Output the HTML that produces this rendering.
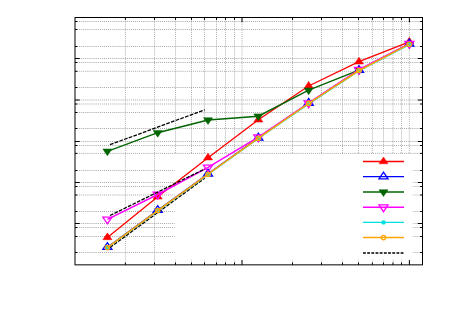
<!DOCTYPE html><html><head><meta charset="utf-8"><title>plot</title><style>html,body{margin:0;padding:0;background:#fff;font-family:"Liberation Sans",sans-serif}svg{display:block}</style></head><body>
<svg width="450" height="314" viewBox="0 0 450 314">
<rect x="0" y="0" width="450" height="314" fill="#fff"/>
<g stroke="#b0b0b0" stroke-width="1" stroke-dasharray="1 1.07" fill="none"><line x1="125.40" y1="17.50" x2="125.40" y2="264.85"/><line x1="154.50" y1="17.50" x2="154.50" y2="264.85"/><line x1="175.50" y1="17.50" x2="175.50" y2="264.85"/><line x1="191.50" y1="17.50" x2="191.50" y2="264.85"/><line x1="204.50" y1="17.50" x2="204.50" y2="264.85"/><line x1="216.50" y1="17.50" x2="216.50" y2="264.85"/><line x1="225.50" y1="17.50" x2="225.50" y2="264.85"/><line x1="234.50" y1="17.50" x2="234.50" y2="264.85"/><line x1="242.00" y1="17.50" x2="242.00" y2="264.85"/><line x1="292.50" y1="17.50" x2="292.50" y2="264.85"/><line x1="321.50" y1="17.50" x2="321.50" y2="264.85"/><line x1="342.50" y1="17.50" x2="342.50" y2="264.85"/><line x1="358.50" y1="17.50" x2="358.50" y2="264.85"/><line x1="372.40" y1="17.50" x2="372.40" y2="264.85"/><line x1="383.50" y1="17.50" x2="383.50" y2="264.85"/><line x1="393.00" y1="17.50" x2="393.00" y2="264.85"/><line x1="401.50" y1="17.50" x2="401.50" y2="264.85"/><line x1="409.40" y1="17.50" x2="409.40" y2="264.85"/></g>
<g stroke="#a6a6a6" stroke-width="1" stroke-dasharray="1 1.07" fill="none"><line x1="75.00" y1="21.50" x2="422.50" y2="21.50"/><line x1="75.00" y1="29.50" x2="422.50" y2="29.50"/><line x1="75.00" y1="46.50" x2="422.50" y2="46.50"/><line x1="75.00" y1="58.50" x2="422.50" y2="58.50"/><line x1="75.00" y1="62.50" x2="422.50" y2="62.50"/><line x1="75.00" y1="71.30" x2="422.50" y2="71.30"/><line x1="75.00" y1="87.50" x2="422.50" y2="87.50"/><line x1="75.00" y1="100.00" x2="422.50" y2="100.00"/><line x1="75.00" y1="104.00" x2="422.50" y2="104.00"/><line x1="75.00" y1="112.50" x2="422.50" y2="112.50"/><line x1="75.00" y1="128.50" x2="422.50" y2="128.50"/><line x1="75.00" y1="141.50" x2="422.50" y2="141.50"/><line x1="75.00" y1="145.50" x2="422.50" y2="145.50"/><line x1="75.00" y1="153.40" x2="422.50" y2="153.40"/><line x1="75.00" y1="170.50" x2="422.50" y2="170.50"/><line x1="75.00" y1="182.50" x2="422.50" y2="182.50"/><line x1="75.00" y1="186.50" x2="422.50" y2="186.50"/><line x1="75.00" y1="195.00" x2="422.50" y2="195.00"/><line x1="75.00" y1="211.50" x2="422.50" y2="211.50"/><line x1="75.00" y1="223.50" x2="422.50" y2="223.50"/><line x1="75.00" y1="227.50" x2="422.50" y2="227.50"/><line x1="75.00" y1="236.50" x2="422.50" y2="236.50"/><line x1="75.00" y1="252.50" x2="422.50" y2="252.50"/></g>
<rect x="174.9" y="154.0" width="237.7" height="105.8" fill="#fff"/>
<g stroke="#000" stroke-width="1" fill="none"><line x1="125.40" y1="264.85" x2="125.40" y2="262.50"/><line x1="125.40" y1="17.50" x2="125.40" y2="19.85"/><line x1="154.50" y1="264.85" x2="154.50" y2="262.50"/><line x1="154.50" y1="17.50" x2="154.50" y2="19.85"/><line x1="175.50" y1="264.85" x2="175.50" y2="262.50"/><line x1="175.50" y1="17.50" x2="175.50" y2="19.85"/><line x1="191.50" y1="264.85" x2="191.50" y2="262.50"/><line x1="191.50" y1="17.50" x2="191.50" y2="19.85"/><line x1="204.50" y1="264.85" x2="204.50" y2="262.50"/><line x1="204.50" y1="17.50" x2="204.50" y2="19.85"/><line x1="216.50" y1="264.85" x2="216.50" y2="262.50"/><line x1="216.50" y1="17.50" x2="216.50" y2="19.85"/><line x1="225.50" y1="264.85" x2="225.50" y2="262.50"/><line x1="225.50" y1="17.50" x2="225.50" y2="19.85"/><line x1="234.50" y1="264.85" x2="234.50" y2="262.50"/><line x1="234.50" y1="17.50" x2="234.50" y2="19.85"/><line x1="242.00" y1="264.85" x2="242.00" y2="260.15"/><line x1="242.00" y1="17.50" x2="242.00" y2="22.20"/><line x1="292.50" y1="264.85" x2="292.50" y2="262.50"/><line x1="292.50" y1="17.50" x2="292.50" y2="19.85"/><line x1="321.50" y1="264.85" x2="321.50" y2="262.50"/><line x1="321.50" y1="17.50" x2="321.50" y2="19.85"/><line x1="342.50" y1="264.85" x2="342.50" y2="262.50"/><line x1="342.50" y1="17.50" x2="342.50" y2="19.85"/><line x1="358.50" y1="264.85" x2="358.50" y2="262.50"/><line x1="358.50" y1="17.50" x2="358.50" y2="19.85"/><line x1="372.40" y1="264.85" x2="372.40" y2="262.50"/><line x1="372.40" y1="17.50" x2="372.40" y2="19.85"/><line x1="383.50" y1="264.85" x2="383.50" y2="262.50"/><line x1="383.50" y1="17.50" x2="383.50" y2="19.85"/><line x1="393.00" y1="264.85" x2="393.00" y2="262.50"/><line x1="393.00" y1="17.50" x2="393.00" y2="19.85"/><line x1="401.50" y1="264.85" x2="401.50" y2="262.50"/><line x1="401.50" y1="17.50" x2="401.50" y2="19.85"/><line x1="409.40" y1="264.85" x2="409.40" y2="260.15"/><line x1="409.40" y1="17.50" x2="409.40" y2="22.20"/><line x1="75.00" y1="21.50" x2="77.35" y2="21.50"/><line x1="422.50" y1="21.50" x2="420.15" y2="21.50"/><line x1="75.00" y1="29.50" x2="77.35" y2="29.50"/><line x1="422.50" y1="29.50" x2="420.15" y2="29.50"/><line x1="75.00" y1="46.50" x2="77.35" y2="46.50"/><line x1="422.50" y1="46.50" x2="420.15" y2="46.50"/><line x1="75.00" y1="58.50" x2="79.70" y2="58.50"/><line x1="422.50" y1="58.50" x2="417.80" y2="58.50"/><line x1="75.00" y1="62.50" x2="77.35" y2="62.50"/><line x1="422.50" y1="62.50" x2="420.15" y2="62.50"/><line x1="75.00" y1="71.30" x2="77.35" y2="71.30"/><line x1="422.50" y1="71.30" x2="420.15" y2="71.30"/><line x1="75.00" y1="87.50" x2="77.35" y2="87.50"/><line x1="422.50" y1="87.50" x2="420.15" y2="87.50"/><line x1="75.00" y1="100.00" x2="79.70" y2="100.00"/><line x1="422.50" y1="100.00" x2="417.80" y2="100.00"/><line x1="75.00" y1="104.00" x2="77.35" y2="104.00"/><line x1="422.50" y1="104.00" x2="420.15" y2="104.00"/><line x1="75.00" y1="112.50" x2="77.35" y2="112.50"/><line x1="422.50" y1="112.50" x2="420.15" y2="112.50"/><line x1="75.00" y1="128.50" x2="77.35" y2="128.50"/><line x1="422.50" y1="128.50" x2="420.15" y2="128.50"/><line x1="75.00" y1="141.50" x2="79.70" y2="141.50"/><line x1="422.50" y1="141.50" x2="417.80" y2="141.50"/><line x1="75.00" y1="145.50" x2="77.35" y2="145.50"/><line x1="422.50" y1="145.50" x2="420.15" y2="145.50"/><line x1="75.00" y1="153.40" x2="77.35" y2="153.40"/><line x1="422.50" y1="153.40" x2="420.15" y2="153.40"/><line x1="75.00" y1="170.50" x2="77.35" y2="170.50"/><line x1="422.50" y1="170.50" x2="420.15" y2="170.50"/><line x1="75.00" y1="182.50" x2="79.70" y2="182.50"/><line x1="422.50" y1="182.50" x2="417.80" y2="182.50"/><line x1="75.00" y1="186.50" x2="77.35" y2="186.50"/><line x1="422.50" y1="186.50" x2="420.15" y2="186.50"/><line x1="75.00" y1="195.00" x2="77.35" y2="195.00"/><line x1="422.50" y1="195.00" x2="420.15" y2="195.00"/><line x1="75.00" y1="211.50" x2="77.35" y2="211.50"/><line x1="422.50" y1="211.50" x2="420.15" y2="211.50"/><line x1="75.00" y1="223.50" x2="79.70" y2="223.50"/><line x1="422.50" y1="223.50" x2="417.80" y2="223.50"/><line x1="75.00" y1="227.50" x2="77.35" y2="227.50"/><line x1="422.50" y1="227.50" x2="420.15" y2="227.50"/><line x1="75.00" y1="236.50" x2="77.35" y2="236.50"/><line x1="422.50" y1="236.50" x2="420.15" y2="236.50"/><line x1="75.00" y1="252.50" x2="77.35" y2="252.50"/><line x1="422.50" y1="252.50" x2="420.15" y2="252.50"/></g>
<rect x="75.0" y="17.5" width="347.5" height="247.35" fill="none" stroke="#000" stroke-width="1"/>
<g stroke="#ff0000" stroke-width="1.3" fill="none" stroke-linejoin="miter"><polyline points="107.40,237.40 157.71,196.80 208.03,157.70 258.35,119.80 308.67,86.00 358.98,61.70 409.30,41.80"/><line x1="363.0" y1="161.5" x2="404.0" y2="161.5"/></g><path d="M102.86,239.67L111.93,239.67L107.40,232.87Z" fill="#ff0000" stroke="#ff0000" stroke-width="0.5"/><path d="M153.18,199.07L162.25,199.07L157.71,192.27Z" fill="#ff0000" stroke="#ff0000" stroke-width="0.5"/><path d="M203.50,159.97L212.56,159.97L208.03,153.17Z" fill="#ff0000" stroke="#ff0000" stroke-width="0.5"/><path d="M253.82,122.07L262.88,122.07L258.35,115.27Z" fill="#ff0000" stroke="#ff0000" stroke-width="0.5"/><path d="M304.13,88.27L313.20,88.27L308.67,81.47Z" fill="#ff0000" stroke="#ff0000" stroke-width="0.5"/><path d="M354.45,63.97L363.52,63.97L358.98,57.17Z" fill="#ff0000" stroke="#ff0000" stroke-width="0.5"/><path d="M404.77,44.07L413.83,44.07L409.30,37.27Z" fill="#ff0000" stroke="#ff0000" stroke-width="0.5"/><path d="M378.97,163.77L388.03,163.77L383.50,156.97Z" fill="#ff0000" stroke="#ff0000" stroke-width="0.5"/>
<g stroke="#0000ff" stroke-width="1.3" fill="none" stroke-linejoin="miter"><polyline points="107.40,247.20 157.71,210.20 208.03,173.80 258.35,137.80 308.67,103.00 358.98,70.10 409.30,43.80"/><line x1="363.0" y1="176.7" x2="404.0" y2="176.7"/></g><path d="M102.86,249.47L111.93,249.47L107.40,242.67Z" fill="none" stroke="#0000ff" stroke-width="1.3"/><path d="M153.18,212.47L162.25,212.47L157.71,205.67Z" fill="none" stroke="#0000ff" stroke-width="1.3"/><path d="M203.50,176.07L212.56,176.07L208.03,169.27Z" fill="none" stroke="#0000ff" stroke-width="1.3"/><path d="M253.82,140.07L262.88,140.07L258.35,133.27Z" fill="none" stroke="#0000ff" stroke-width="1.3"/><path d="M304.13,105.27L313.20,105.27L308.67,98.47Z" fill="none" stroke="#0000ff" stroke-width="1.3"/><path d="M354.45,72.37L363.52,72.37L358.98,65.57Z" fill="none" stroke="#0000ff" stroke-width="1.3"/><path d="M404.77,46.07L413.83,46.07L409.30,39.27Z" fill="none" stroke="#0000ff" stroke-width="1.3"/><path d="M378.97,178.97L388.03,178.97L383.50,172.17Z" fill="none" stroke="#0000ff" stroke-width="1.3"/>
<g stroke="#006400" stroke-width="1.4" fill="none" stroke-linejoin="miter"><polyline points="107.40,151.30 157.71,132.70 208.03,120.00 258.35,116.20 308.67,90.20 358.98,70.20 409.30,44.00"/><line x1="363.0" y1="192.0" x2="404.0" y2="192.0"/></g><path d="M102.86,149.03L111.93,149.03L107.40,155.83Z" fill="#006400" stroke="#006400" stroke-width="0.5"/><path d="M153.18,130.43L162.25,130.43L157.71,137.23Z" fill="#006400" stroke="#006400" stroke-width="0.5"/><path d="M203.50,117.73L212.56,117.73L208.03,124.53Z" fill="#006400" stroke="#006400" stroke-width="0.5"/><path d="M253.82,113.93L262.88,113.93L258.35,120.73Z" fill="#006400" stroke="#006400" stroke-width="0.5"/><path d="M304.13,87.93L313.20,87.93L308.67,94.73Z" fill="#006400" stroke="#006400" stroke-width="0.5"/><path d="M354.45,67.93L363.52,67.93L358.98,74.73Z" fill="#006400" stroke="#006400" stroke-width="0.5"/><path d="M404.77,41.73L413.83,41.73L409.30,48.53Z" fill="#006400" stroke="#006400" stroke-width="0.5"/><path d="M378.97,189.73L388.03,189.73L383.50,196.53Z" fill="#006400" stroke="#006400" stroke-width="0.5"/>
<g stroke="#ff00ff" stroke-width="1.5" fill="none" stroke-linejoin="miter"><polyline points="107.40,219.40 157.71,194.50 208.03,167.30 258.35,137.20 308.67,103.20 358.98,69.70 409.30,43.70"/><line x1="363.0" y1="207.2" x2="404.0" y2="207.2"/></g><path d="M102.86,217.13L111.93,217.13L107.40,223.93Z" fill="none" stroke="#ff00ff" stroke-width="1.3"/><path d="M153.18,192.23L162.25,192.23L157.71,199.03Z" fill="none" stroke="#ff00ff" stroke-width="1.3"/><path d="M203.50,165.03L212.56,165.03L208.03,171.83Z" fill="none" stroke="#ff00ff" stroke-width="1.3"/><path d="M253.82,134.93L262.88,134.93L258.35,141.73Z" fill="none" stroke="#ff00ff" stroke-width="1.3"/><path d="M304.13,100.93L313.20,100.93L308.67,107.73Z" fill="none" stroke="#ff00ff" stroke-width="1.3"/><path d="M354.45,67.43L363.52,67.43L358.98,74.23Z" fill="none" stroke="#ff00ff" stroke-width="1.3"/><path d="M404.77,41.43L413.83,41.43L409.30,48.23Z" fill="none" stroke="#ff00ff" stroke-width="1.3"/><path d="M378.97,204.93L388.03,204.93L383.50,211.73Z" fill="none" stroke="#ff00ff" stroke-width="1.3"/>
<g stroke="#000" stroke-width="1.3" stroke-dasharray="3.7 1.3" fill="none"><line x1="110" y1="144.7" x2="204.7" y2="109.8"/><line x1="110" y1="215.5" x2="204.7" y2="169.0"/><line x1="110" y1="247.5" x2="204.7" y2="178.2"/></g>
<g stroke="#000" stroke-width="1.3" stroke-dasharray="2.85 1.33" fill="none"><line x1="363" y1="253.0" x2="403.5" y2="253.0"/></g>
<g stroke="#00e0e0" stroke-width="1.2" fill="none" stroke-linejoin="miter"><polyline points="107.40,247.80 157.71,210.90 208.03,174.50 258.35,138.60 308.67,103.90 358.98,71.00 409.30,44.70"/><line x1="363.0" y1="222.4" x2="404.0" y2="222.4"/></g><circle cx="107.40" cy="247.80" r="2.2" fill="#00e0e0"/><circle cx="157.71" cy="210.90" r="2.2" fill="#00e0e0"/><circle cx="208.03" cy="174.50" r="2.2" fill="#00e0e0"/><circle cx="258.35" cy="138.60" r="2.2" fill="#00e0e0"/><circle cx="308.67" cy="103.90" r="2.2" fill="#00e0e0"/><circle cx="358.98" cy="71.00" r="2.2" fill="#00e0e0"/><circle cx="409.30" cy="44.70" r="2.2" fill="#00e0e0"/><circle cx="383.50" cy="222.40" r="2.2" fill="#00e0e0"/>
<g stroke="#ffa500" stroke-width="1.5" fill="none" stroke-linejoin="miter"><polyline points="107.40,247.60 157.71,210.60 208.03,174.20 258.35,138.20 308.67,103.40 358.98,70.50 409.30,44.20"/><line x1="363.0" y1="237.6" x2="404.0" y2="237.6"/></g><circle cx="107.40" cy="247.60" r="2.2" fill="none" stroke="#ffa500" stroke-width="1.2"/><circle cx="157.71" cy="210.60" r="2.2" fill="none" stroke="#ffa500" stroke-width="1.2"/><circle cx="208.03" cy="174.20" r="2.2" fill="none" stroke="#ffa500" stroke-width="1.2"/><circle cx="258.35" cy="138.20" r="2.2" fill="none" stroke="#ffa500" stroke-width="1.2"/><circle cx="308.67" cy="103.40" r="2.2" fill="none" stroke="#ffa500" stroke-width="1.2"/><circle cx="358.98" cy="70.50" r="2.2" fill="none" stroke="#ffa500" stroke-width="1.2"/><circle cx="409.30" cy="44.20" r="2.2" fill="none" stroke="#ffa500" stroke-width="1.2"/><circle cx="383.50" cy="237.60" r="2.2" fill="none" stroke="#ffa500" stroke-width="1.2"/>
</svg></body></html>
